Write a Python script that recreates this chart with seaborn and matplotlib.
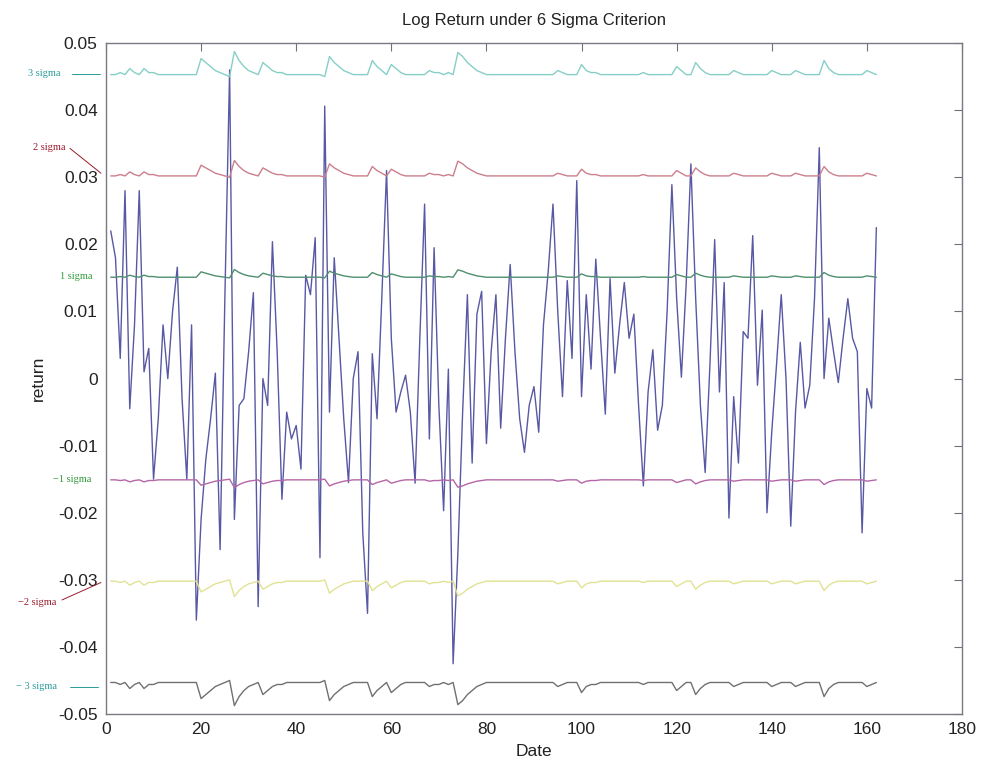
import numpy as np
import pandas as pd
import matplotlib
matplotlib.use("Agg")
import matplotlib.pyplot as plt
from matplotlib.ticker import FuncFormatter
import seaborn as sns

# ---- data (x = day 1..162) ----
returns = [
    0.022, 0.018, 0.003, 0.028, -0.0045, 0.008, 0.028, 0.001, 0.0045, -0.015,
    -0.006, 0.008, 0.000, 0.010, 0.0166, -0.003, -0.015, 0.008, -0.036, -0.021,
    -0.012, -0.006, 0.0008, -0.0255, 0.012, 0.046, -0.021, -0.004, -0.003, 0.004,
    0.0128, -0.034, 0.000, -0.004, 0.0204, 0.004, -0.018, -0.005, -0.009, -0.007,
    -0.0135, 0.0154, 0.0125, 0.021, -0.0267, 0.0406, -0.005, 0.018, 0.006, -0.006,
    -0.0155, 0.000, 0.004, -0.023, -0.035, 0.0037, -0.006, 0.012, 0.031, 0.006,
    -0.005, -0.002, 0.0005, -0.005, -0.0156, 0.006, 0.026, -0.009, 0.0195, -0.004,
    -0.0197, 0.0014, -0.0425, -0.026, -0.005, 0.0125, -0.0126, 0.0096, 0.013, -0.0097,
    0.004, 0.0125, -0.0074, 0.006, 0.017, 0.004, -0.006, -0.011, -0.004, -0.0012,
    -0.008, 0.008, 0.016, 0.026, 0.010, -0.0027, 0.0146, 0.003, 0.0295, -0.0027,
    0.0125, 0.0014, 0.0178, 0.006, -0.0053, 0.0149, 0.0008, 0.008, 0.0143, 0.006,
    0.0096, -0.004, -0.016, -0.002, 0.0043, -0.0077, -0.004, 0.010, 0.0289, 0.012,
    0.0002, 0.014, 0.032, 0.012, -0.004, -0.014, 0.002, 0.0207, -0.002, 0.0143,
    -0.0208, -0.0027, -0.0126, 0.007, 0.006, 0.0213, -0.001, 0.0102, -0.020, -0.008,
    0.002, 0.0125, 0.000, -0.022, -0.005, 0.0054, -0.0044, -0.001, 0.012, 0.0344,
    0.000, 0.009, 0.004, -0.0006, 0.006, 0.0119, 0.006, 0.004, -0.023, -0.0015,
    -0.0044, 0.0225,
]

# one-sigma level per day (the bands are +/-1, 2, 3 times this)
sigma = [
    0.0151, 0.0151, 0.0152, 0.0151, 0.0154, 0.0152, 0.0151, 0.0154, 0.0152, 0.0152,
    0.0151, 0.0151, 0.0151, 0.0151, 0.0151, 0.0151, 0.0151, 0.0151, 0.0151, 0.0159,
    0.0157, 0.0155, 0.0153, 0.0152, 0.0151, 0.0150, 0.01625, 0.0158, 0.0155, 0.0153,
    0.0152, 0.0151, 0.0157, 0.0155, 0.0153, 0.0152, 0.0152, 0.0151, 0.0151, 0.0151,
    0.0151, 0.0151, 0.0151, 0.0151, 0.0151, 0.0150, 0.0160, 0.0157, 0.0155, 0.0153,
    0.0152, 0.0151, 0.0151, 0.0151, 0.0151, 0.0158, 0.0155, 0.0153, 0.0151, 0.0156,
    0.0154, 0.0152, 0.0151, 0.0151, 0.0151, 0.0151, 0.0151, 0.0153, 0.0152, 0.0152,
    0.0151, 0.0152, 0.0151, 0.0162, 0.0160, 0.0157, 0.0155, 0.0153, 0.0152, 0.0151,
    0.0151, 0.0151, 0.0151, 0.0151, 0.0151, 0.0151, 0.0151, 0.0151, 0.0151, 0.0151,
    0.0151, 0.0151, 0.0151, 0.0151, 0.0153, 0.0152, 0.0151, 0.0151, 0.0151, 0.0156,
    0.0153, 0.0152, 0.0152, 0.0151, 0.0151, 0.0151, 0.0151, 0.0151, 0.0151, 0.0151,
    0.0151, 0.0151, 0.0152, 0.0151, 0.0151, 0.0151, 0.0151, 0.0151, 0.0151, 0.0155,
    0.0153, 0.0151, 0.0151, 0.0157, 0.0154, 0.0152, 0.0151, 0.0151, 0.0151, 0.0151,
    0.0151, 0.0153, 0.0152, 0.0151, 0.0151, 0.0151, 0.0151, 0.0151, 0.0151, 0.0153,
    0.0152, 0.0151, 0.0151, 0.0151, 0.0153, 0.0152, 0.0151, 0.0151, 0.0151, 0.0151,
    0.0158, 0.0154, 0.0152, 0.0151, 0.0151, 0.0151, 0.0151, 0.0151, 0.0151, 0.0153,
    0.0152, 0.0151,
]

band_multipliers = [3, 2, 1, -1, -2, -3]
band_names = ["3 sigma", "2 sigma", "1 sigma", "\u22121 sigma", "\u22122 sigma", "\u2212 3 sigma"]
band_colors = ["#86cfc6", "#cc7f8c", "#4f8f70", "#b466a6", "#e2e294", "#707070"]
label_colors = ["#2a9a9a", "#9a1a2a", "#2f9a3a", "#2f9a3a", "#9a1a2a", "#2a9a9a"]
return_color = "#5858a4"

x_ticks = list(range(0, 181, 20))
y_ticks = [-0.05, -0.04, -0.03, -0.02, -0.01, 0.0, 0.01, 0.02, 0.03, 0.04, 0.05]

# ---- build long-form table ----
days = np.arange(1, len(returns) + 1)
frames = [pd.DataFrame({"Date": days, "value": returns, "series": "return"})]
sig = np.array(sigma)
for k, name in zip(band_multipliers, band_names):
    frames.append(pd.DataFrame({"Date": days, "value": k * sig, "series": name}))
df = pd.concat(frames, ignore_index=True)

palette = {"return": return_color}
palette.update(dict(zip(band_names, band_colors)))
order = ["return"] + band_names

sns.set_theme(style="white")
plt.rcParams["font.family"] = ["Liberation Sans", "DejaVu Sans"]

fig = plt.figure(figsize=(9.84, 7.69), dpi=100)
ax = fig.add_axes([0.1077, 0.0715, 0.8699, 0.8725])

sns.lineplot(data=df, x="Date", y="value", hue="series", hue_order=order,
             palette=palette, legend=False, ax=ax, linewidth=1.0,
             estimator=None, sort=False)

ax.set_xlim(0, 180)
ax.set_ylim(-0.05, 0.05)
ax.set_xticks(x_ticks)
ax.set_yticks(y_ticks)
ax.yaxis.set_major_formatter(FuncFormatter(lambda v, p: "0" if abs(v) < 1e-9 else f"{v:.2f}"))
ax.tick_params(direction="in", length=6, width=0.8, top=True, right=True,
               labelsize=12.5, colors="#707078", labelcolor="#222222", pad=6)
for s in ax.spines.values():
    s.set_color("#7a7a82")
    s.set_linewidth(1.0)

ax.set_title("Log Return under 6 Sigma Criterion", fontsize=12, color="#222222", pad=13)
ax.set_xlabel("Date", fontsize=12.5, color="#222222", labelpad=5)
ax.set_ylabel("return", fontsize=12.5, color="#222222", labelpad=9)

# ---- sigma labels on the left (outside the axes) ----
tr = ax.get_yaxis_transform()
def px_to_ax(px):
    return (px - 106) / 856.0

label_specs = [
    # text, label x(px), label y(data), line start (px,data), line end (px,data)
    ("3 sigma", 44, 0.0454, (72, 0.0454), (100, 0.0454)),
    ("2 sigma", 49, 0.0345, (70, 0.0343), (101, 0.0306)),
    ("1 sigma", 76, 0.0152, None, None),
    ("\u22121 sigma", 72, -0.0151, None, None),
    ("\u22122 sigma", 37, -0.0334, (62, -0.0330), (101, -0.0304)),
    ("\u2212 3 sigma", 37, -0.0459, (70, -0.0459), (98, -0.0459)),
]
for (txt, lx, ly, p0, p1), col in zip(label_specs, label_colors):
    ax.text(px_to_ax(lx), ly, txt, transform=tr, ha="center", va="center",
            fontsize=7.5, family=["Liberation Serif", "DejaVu Serif"], color=col,
            clip_on=False)
    if p0 is not None:
        ax.plot([px_to_ax(p0[0]), px_to_ax(p1[0])], [p0[1], p1[1]], transform=tr,
                color=col, lw=0.7, clip_on=False)

fig.savefig("out.png", dpi=100, facecolor="white")
